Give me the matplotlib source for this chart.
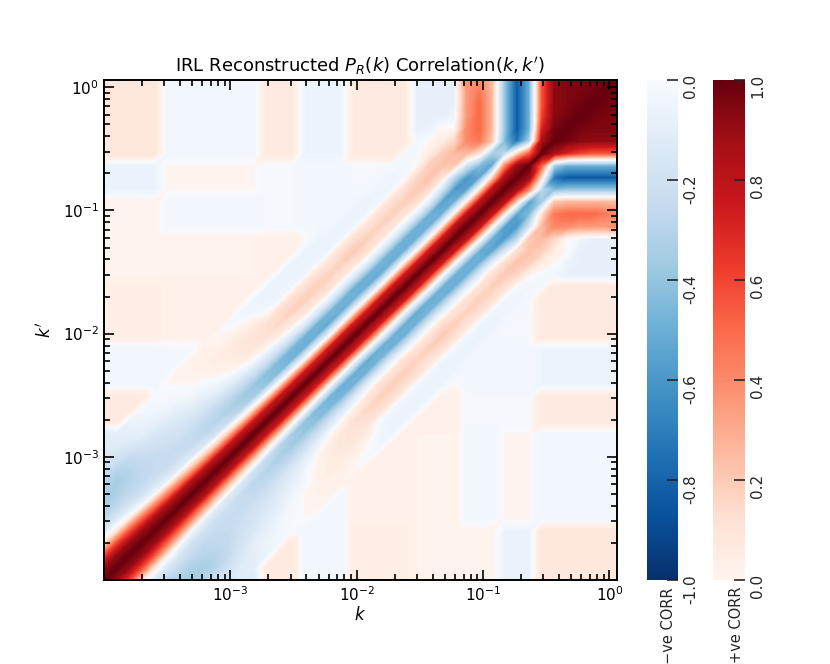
import matplotlib
matplotlib.use('Agg')
import matplotlib.pyplot as plt
import matplotlib.tri as mtri
import numpy as np
from matplotlib.colors import ListedColormap, Normalize
from matplotlib.cm import ScalarMappable
from matplotlib.ticker import FixedLocator, FuncFormatter

plt.rcParams['font.family'] = ['DejaVu Sans']
plt.rcParams['axes.unicode_minus'] = False

# k grid (log10 k), same for k and k'
log_k = np.linspace(-4.0, 0.059, 42)

# correlation along the diagonals C(k_j+d, k_j), j = 0..41-d
corr_d0 = [1.0] * 42
corr_d1 = [.90, .90, .90, .88, .87, .86, .85, .85, .83, .82, .80, .80, .78, .78, .77, .76,
           .75, .74, .75, .76, .75, .74, .75, .76, .75, .74, .75, .76, .80, .80, .80, .82,
           .85, .88, .50, .85, .97, .97, .98, .98, .98]
corr_d2 = [.60, .58, .55, .50, .45, .40, .35, .30, .25, .22, .20, .15, .12, .08, .05, .03,
           .00, .00, -.02, .00, .02, .00, -.02, .00, .02, .00, .00, .02, .05, .05, .05, .10,
           .35, .10, -.35, .70, .93, .95, .96, .97]
corr_d3 = [.10, .08, .05, .00, -.05, -.08, -.10, -.12, -.15, -.20, -.25, -.30, -.35, -.40,
           -.45, -.48, -.50, -.50, -.52, -.50, -.48, -.50, -.52, -.50, -.50, -.50, -.50, -.50,
           -.50, -.55, -.55, -.55, -.30, -.75, -.50, .60, .92, .95, .96]
corr_d4 = [-.15, -.15, -.17, -.20, -.20, -.22, -.22, -.25, -.28, -.30, -.33, -.37, -.40, -.42,
           -.45, -.47, -.48, -.48, -.47, -.48, -.50, -.48, -.47, -.48, -.50, -.50, -.50, -.55,
           -.60, -.60, -.45, -.35, -.45, -.85, -.50, .55, .92, .95]
corr_d5 = [-.28, -.27, -.27, -.27, -.25, -.25, -.25, -.25, -.27, -.27, -.27, -.25, -.22, -.20,
           -.18, -.15, -.12, -.12, -.10, -.12, -.12, -.10, -.12, -.12, -.12, -.12, -.12, -.20,
           -.30, -.20, .10, .20, -.40, -.85, -.50, .55, .92]
corr_d6 = [-.33, -.33, -.30, -.27, -.25, -.22, -.20, -.20, -.18, -.15, -.12, -.08, -.03, .00,
           .03, .06, .10, .10, .12, .10, .10, .12, .10, .10, .10, .12, .12, .10, .20, .25,
           .45, .25, -.40, -.85, -.50, .55]
corr_d7 = [-.35, -.35, -.30, -.25, -.20, -.18, -.15, -.12, -.10, -.05, .00, .05, .08, .12,
           .15, .17, .18, .18, .17, .18, .20, .18, .17, .18, .18, .20, .22, .22, .25, .40,
           .50, .25, -.40, -.85, -.50]
corr_d8 = [-.30, -.30, -.25, -.18, -.15, -.12, -.10, -.05, -.03, .02, .05, .08, .10, .12,
           .13, .13, .12, .12, .10, .12, .12, .10, .12, .12, .12, .15, .18, .18, .15, .40,
           .50, .25, -.40, -.85]
corr_d9 = [-.20, -.20, -.15, -.10, -.08, -.05, -.03, .00, .02, .05, .06, .06, .05, -.03,
           -.04, -.04, -.04, -.04, -.05, -.04, -.04, -.05, -.04, -.04, -.03, .00, .05, .05,
           .00, .35, .50, .25, -.40]
corr_d10 = [-.15, -.12, -.10, -.06, -.04, -.02, .00, .02, .03, .03, .02, .00, -.04, -.06,
            -.06, -.06, -.06, -.06, -.06, -.06, -.06, -.06, -.05, -.05, -.04, -.02, .00,
            .00, -.05, .35, .45, .25]
corr_d11 = [-.12, -.10, -.06, -.03, -.02, .00, .02, .02, .02, .00, -.02, -.04, -.05, -.05,
            -.05, -.05, -.05, -.05, -.04, -.04, -.04, -.03, -.03, -.02, -.02, -.03, -.06,
            -.08, -.08, .35, .40]
near_diagonals = [corr_d0, corr_d1, corr_d2, corr_d3, corr_d4, corr_d5,
                  corr_d6, corr_d7, corr_d8, corr_d9, corr_d10, corr_d11]

# faint far-from-diagonal patches: blocks of k indices and their mean correlation
seg_edges = [0, 5, 13, 16, 20, 25, 29, 32, 35, 42]
far_corr = [
    [0.90, -0.12, 0.07, -0.04, 0.05, 0.02, 0.02, -0.06, 0.09],
    [-0.12, 0.50, 0.02, -0.03, 0.03, 0.02, -0.03, 0.00, -0.04],
    [0.07, 0.02, 0.50, 0.00, 0.00, 0.03, -0.02, -0.02, 0.07],
    [-0.04, -0.03, 0.00, 0.50, 0.00, 0.00, -0.03, -0.03, -0.05],
    [0.05, 0.03, 0.00, 0.00, 0.50, 0.00, -0.05, -0.02, 0.07],
    [0.02, 0.02, 0.03, 0.00, 0.00, 0.50, 0.00, -0.05, -0.08],
    [0.02, -0.03, -0.02, -0.03, -0.05, 0.00, 0.50, 0.00, 0.40],
    [-0.06, 0.00, -0.02, -0.03, -0.02, -0.05, 0.00, 0.50, -0.60],
    [0.09, -0.04, 0.07, -0.05, 0.07, -0.08, 0.40, -0.60, 0.95],
]

# assemble the symmetric correlation matrix
n = len(log_k)
seg = np.searchsorted(seg_edges, np.arange(n), side='right') - 1
corr = np.array(far_corr)[np.ix_(seg, seg)]
for d, diag in enumerate(near_diagonals):
    for j, v in enumerate(diag):
        corr[j + d, j] = v
        corr[j, j + d] = v

# triangles split along the k = k' direction
X, Y = np.meshgrid(log_k, log_k)
tris = []
for j in range(n - 1):
    for i in range(n - 1):
        a = j * n + i
        tris.append([a, a + 1, a + n + 1])
        tris.append([a, a + n + 1, a + n])
tri = mtri.Triangulation(X.ravel(), Y.ravel(), tris)

# negative half Blues_r, positive half Reds
cols = np.vstack([plt.get_cmap('Blues_r')(np.linspace(0, 1, 256)),
                  plt.get_cmap('Reds')(np.linspace(0, 1, 256))])
cmap = ListedColormap(cols)

fig = plt.figure(figsize=(8.3, 6.64), dpi=100)
ax = fig.add_axes([0.1253, 0.1265, 0.618, 0.753])
ax.tricontourf(tri, corr.ravel(), levels=np.linspace(-1, 1, 201),
               cmap=cmap, norm=Normalize(-1, 1))
ax.set_xlim(-4, 0.059)
ax.set_ylim(-4, 0.059)

major = [-3, -2, -1, 0]
minor = [e + np.log10(m) for e in range(-4, 1) for m in range(2, 10)]
minor = [v for v in minor if v < 0.059]
fmt = FuncFormatter(lambda v, p: r'$\mathdefault{10^{%d}}$' % round(v))
for axis in (ax.xaxis, ax.yaxis):
    axis.set_major_locator(FixedLocator(major))
    axis.set_minor_locator(FixedLocator(minor))
    axis.set_major_formatter(fmt)
ax.tick_params(which='both', direction='in', top=True, right=True, labelsize=11)
ax.tick_params(which='major', length=7, width=1.2)
ax.tick_params(which='minor', length=4.5, width=1.2)
for s in ax.spines.values():
    s.set_linewidth(1.4)

ax.set_title(r"IRL Reconstructed $P_R(k)$ Correlation$(k,k')$", fontsize=13, pad=6)
ax.set_xlabel(r'$k$', fontsize=12, labelpad=2)
ax.set_ylabel(r"$k'$", fontsize=12, labelpad=6)

# two colorbars
cax_neg = fig.add_axes([0.7795, 0.1265, 0.0373, 0.753])
cax_pos = fig.add_axes([0.8594, 0.1265, 0.0386, 0.753])
cb_neg = fig.colorbar(ScalarMappable(Normalize(-1, 0), 'Blues_r'), cax=cax_neg,
                      ticks=np.linspace(-1, 0, 6), format='%.1f')
cb_pos = fig.colorbar(ScalarMappable(Normalize(0, 1), 'Reds'), cax=cax_pos,
                      ticks=np.linspace(0, 1, 6), format='%.1f')
for cb in (cb_neg, cb_pos):
    cb.outline.set_visible(False)
    cb.ax.tick_params(direction='in', length=8, width=1.2, color='0.15',
                      labelcolor='0.15', labelsize=11, labelrotation=90)
fig.text(0.805, 0.116, '\u2212ve CORR', rotation=90, ha='center', va='top',
         fontsize=10.5, color='0.15')
fig.text(0.887, 0.116, '+ve CORR', rotation=90, ha='center', va='top',
         fontsize=10.5, color='0.15')

fig.savefig('out.png', dpi=100)
